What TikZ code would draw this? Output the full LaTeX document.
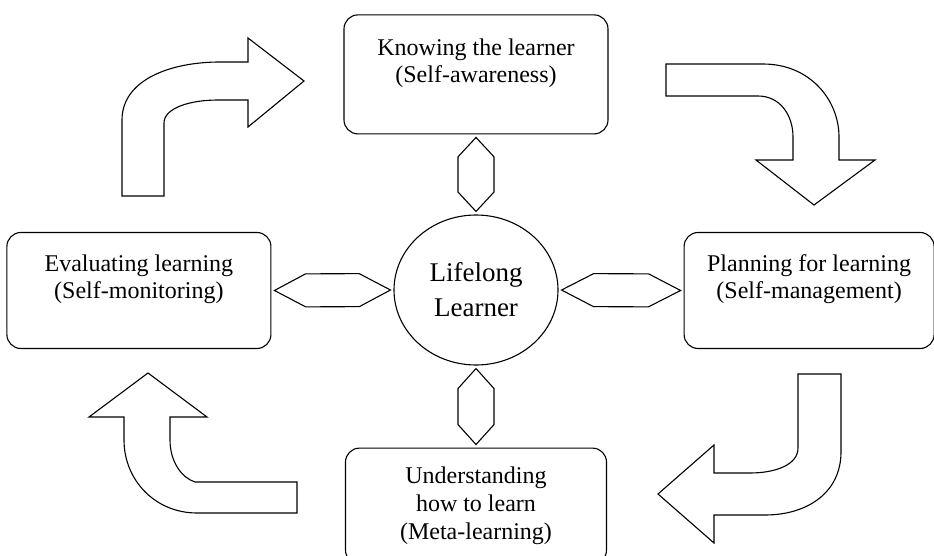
\documentclass[tikz,border=0pt]{standalone}
\usepackage{fontspec}
\setmainfont{Liberation Serif}
\usetikzlibrary{shapes.geometric,positioning,calc}

% hexagon link between two nodes: from, to, half width
\newcommand{\hexlink}[3]{%
  \draw[link] ($(#1)!3pt!(#2)$) -- ($(#1)!0.28!(#2)!#3!90:(#2)$)
    -- ($(#1)!0.72!(#2)!#3!90:(#2)$) -- ($(#2)!3pt!(#1)$)
    -- ($(#1)!0.72!(#2)!#3!-90:(#2)$) -- ($(#1)!0.28!(#2)!#3!-90:(#2)$) -- cycle;}

\begin{document}
\begin{tikzpicture}[
    x=1pt, y=-1pt,
    box/.style={rectangle, draw, line width=1.1pt, rounded corners=14pt, align=center,
      font=\fontsize{24}{27}\selectfont, minimum width=264pt, minimum height=116pt},
    hub/.style={ellipse, draw, line width=1.1pt, minimum width=164pt, minimum height=150pt,
      align=center, font=\fontsize{27}{35}\selectfont},
    link/.style={draw, line width=1.1pt, line join=miter},
    block/.style={draw, line width=1.1pt, line join=miter}
]
\useasboundingbox (0,0) rectangle (934,556);

% Centre
\node[hub] (life) at (476,290) {Lifelong\\Learner};

% Boxes
\node[box, above=80pt of life, minimum height=119pt] (know) {Knowing the learner\\(Self-awareness)\\\mbox{}};
\node[box, left=122pt of life, yshift=-0.5pt] (eval) {Evaluating learning\\(Self-monitoring)\\\mbox{}};
\node[box, right=125pt of life, minimum width=250pt, yshift=-0.5pt] (plan) {Planning for learning\\(Self-management)\\\mbox{}};
\node[box, below=82pt of life, minimum width=261pt, minimum height=116pt,
  font=\fontsize{24}{28}\selectfont] (under) {Understanding\\how to learn\\(Meta-learning)};

% Links
\hexlink{know.south}{life.north}{18pt}
\hexlink{life.south}{under.north}{18pt}
\hexlink{eval.east}{life.west}{16.5pt}
\hexlink{life.east}{plan.west}{16.5pt}

% Cycle arrows
\draw[block] (122,196) -- (122,120) .. controls (122,80) and (170,62) .. (220,62)
  -- (248,62) -- (248,38) -- (304,81) -- (248,127) -- (248,100) -- (218,100)
  .. controls (190,100) and (164,108) .. (164,123) -- (164,196) -- cycle;
\draw[block] (666,64) -- (763,64) .. controls (810,64) and (839,100) .. (839,137)
  -- (839,160) -- (875,160) -- (814,205) -- (756,160) -- (793,160) -- (793,137)
  .. controls (793,115) and (780,96) .. (758,96) -- (666,96) -- cycle;
\draw[block] (798,374) -- (841,374) -- (841,452) .. controls (841,492) and (808,515) .. (765,515)
  -- (714,515) -- (714,543) -- (658,494) -- (714,445) -- (714,473) -- (750,473)
  .. controls (775,473) and (798,465) .. (798,448) -- cycle;
\draw[block] (297,513) -- (297,482) -- (195,482) .. controls (182,478) and (170,462) .. (170,440)
  -- (170,417) -- (207,417) -- (148,373) -- (89,417) -- (124,417) -- (124,440)
  .. controls (124,480) and (155,513) .. (197,513) -- cycle;

\end{tikzpicture}
\end{document}
